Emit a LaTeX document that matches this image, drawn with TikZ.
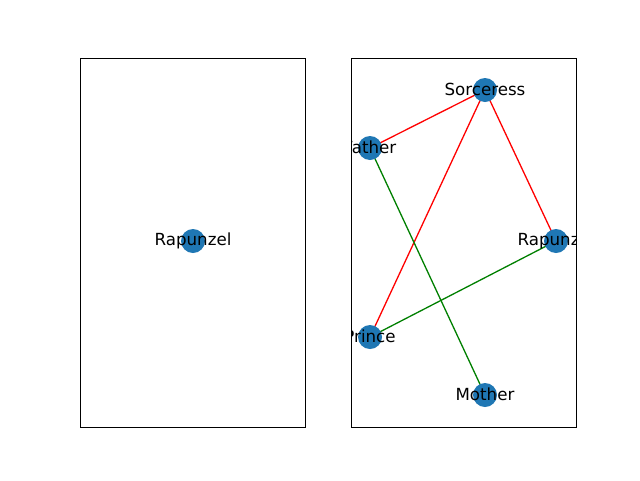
\documentclass[tikz,border=0pt]{standalone}
\usepackage{fontspec}
\setmainfont{DejaVu Sans}
\definecolor{nodeblue}{HTML}{1F77B4}
\definecolor{mplgreen}{HTML}{008000}
\tikzset{
  vert/.style={circle,fill=nodeblue,draw=none,minimum size=24pt,inner sep=0pt},
  lbl/.style={font=\fontsize{16.67pt}{20pt}\selectfont,inner sep=0pt,text=black,yshift=0.3pt},
  redge/.style={draw=red,line width=1.3pt},
  gedge/.style={draw=mplgreen,line width=1.3pt},
  spine/.style={draw=black,line width=1pt}
}
\begin{document}
\begin{tikzpicture}[x=1pt,y=-1pt]
\useasboundingbox[fill=white] (0,0) rectangle (640,480);
% left axes
\begin{scope}
\clip (80,58) rectangle (305,427);
\node[vert] (L1) at (193,241) {};
\node[lbl] (L1t) at (L1.center) {Rapunzel};
\end{scope}
\draw[spine] (80,58) rectangle (305,427);
% right axes
\begin{scope}
\clip (351,58) rectangle (576,427);
\coordinate (S) at (485,90);
\coordinate (F) at (370,148);
\coordinate (R) at (556,241);
\coordinate (P) at (370,337);
\coordinate (M) at (485,395);
\draw[redge] (F) -- (S);
\draw[redge] (S) -- (R);
\draw[redge] (S) -- (P);
\draw[gedge] (F) -- (M);
\draw[gedge] (P) -- (R);
\node[vert] (Sn) at (S) {};
\node[vert] (Fn) at (F) {};
\node[vert] (Rn) at (R) {};
\node[vert] (Pn) at (P) {};
\node[vert] (Mn) at (M) {};
\node[lbl] (St) at (S) {Sorceress};
\node[lbl] (Ft) at (F) {Father};
\node[lbl] (Rt) at (R) {Rapunzel};
\node[lbl] (Pt) at (P) {Prince};
\node[lbl] (Mt) at (M) {Mother};
\end{scope}
\draw[spine] (351,58) rectangle (576,427);
\end{tikzpicture}
\end{document}
